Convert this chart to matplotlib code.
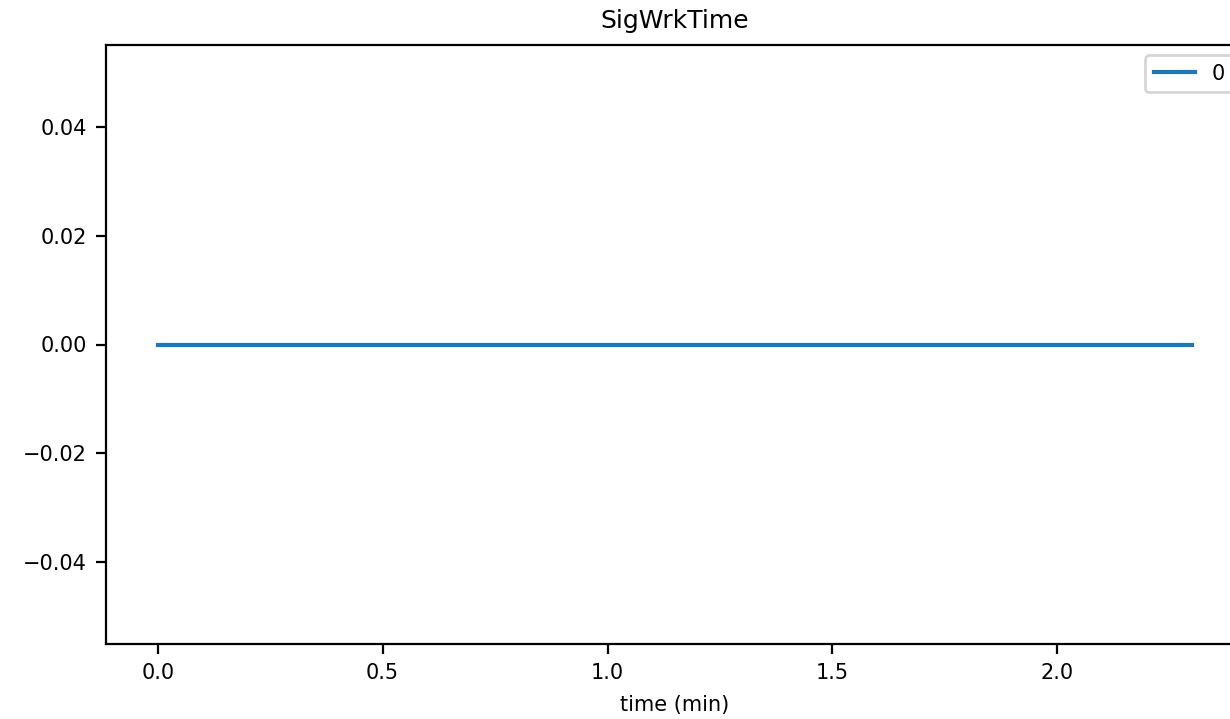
import matplotlib
matplotlib.use("Agg")
import matplotlib.pyplot as plt

# ---------- DATA ----------
time_min = [0.0, 2.3]
sig_wrk_time = [0.0, 0.0]
series_label = "0"

# ---------- STYLE ----------
# reference looks like a dpi-200 render with smallish fonts
plt.rcParams["font.size"] = 7.5

# ---------- PLOT ----------
fig = plt.figure(figsize=(1230 / 200, 719 / 200), dpi=200)
# axes run past the right edge in the reference, so place them by hand
ax = fig.add_axes([106 / 1230, 75 / 719, 1138 / 1230, 599 / 719])

ax.plot(time_min, sig_wrk_time, label=series_label)
ax.set_title("SigWrkTime")
ax.set_xlabel("time (min)")
ax.legend(loc="upper right")

fig.savefig("out.png", dpi=200)
